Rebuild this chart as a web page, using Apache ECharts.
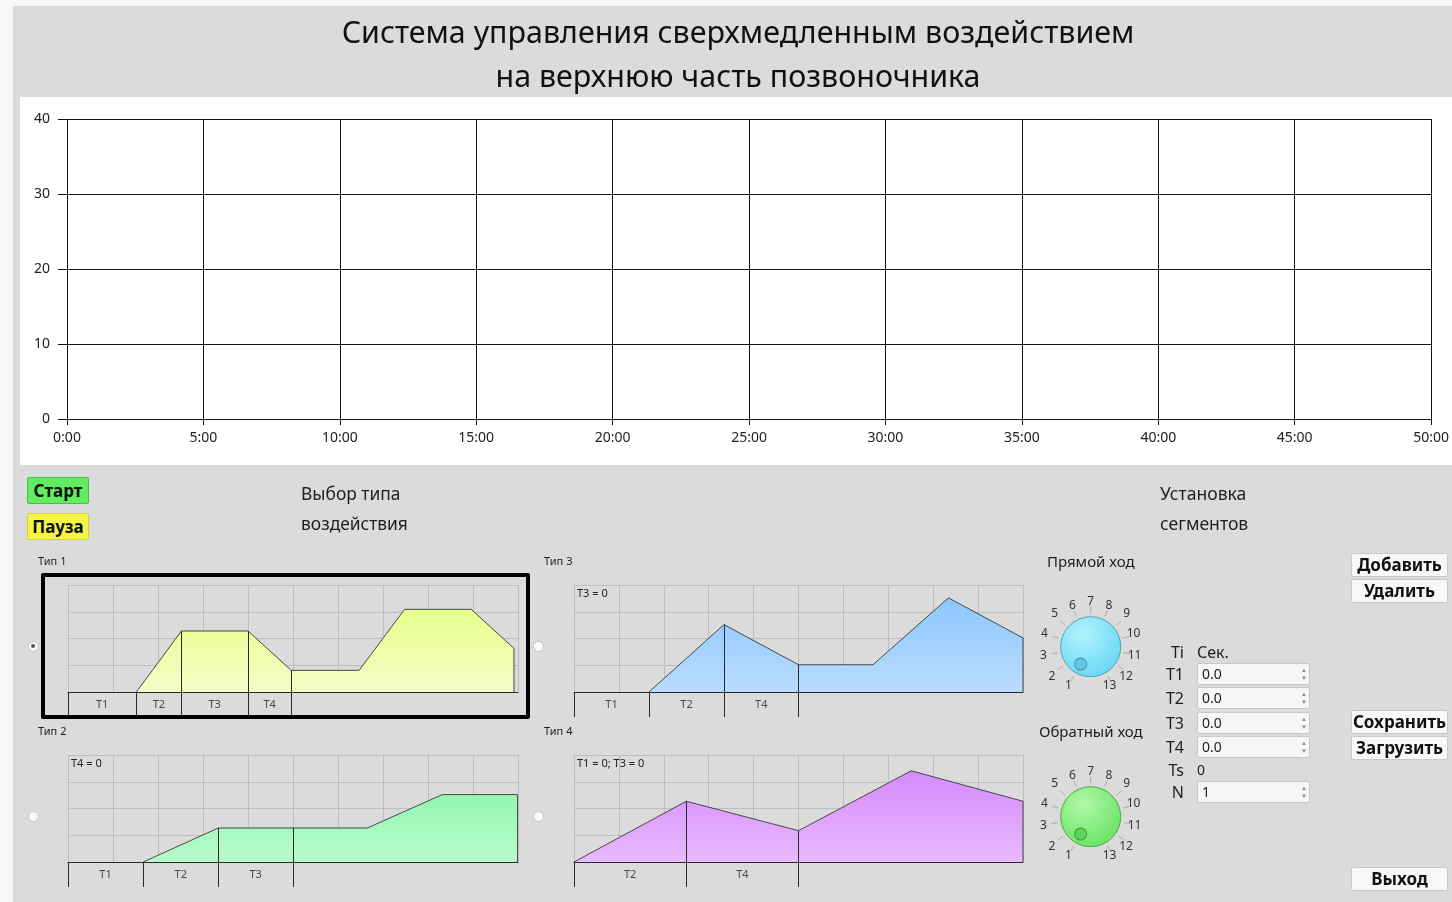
<!DOCTYPE html>
<html><head><meta charset="utf-8">
<script src="https://cdn.jsdelivr.net/npm/echarts@6/dist/echarts.min.js"></script>
<style>
html,body{margin:0;padding:0;width:1452px;height:902px;overflow:hidden;background:#f7f7f7;font-family:"Noto Sans","Open Sans",sans-serif;color:#1e1e1e;}
#panel{position:absolute;left:13px;top:6px;width:1439px;height:896px;background:#dbdbdb;}
#white{position:absolute;left:20px;top:97px;width:1432px;height:368px;background:#fff;}
#chart{position:absolute;left:0;top:0;width:1452px;height:902px;}
#title{position:absolute;left:238px;width:1000px;top:10px;text-align:center;font-size:30.4px;line-height:44px;color:#111;}
.abs{position:absolute;white-space:nowrap;}
.btn{position:absolute;box-sizing:border-box;border-radius:2px;font-weight:bold;font-size:17px;text-align:center;color:#111;}
.wbtn{background:#f8f8f8;border:1px solid #c9c9c9;width:97px;height:24px;line-height:22px;left:1351px;}
.inp{position:absolute;box-sizing:border-box;left:1197px;width:113px;height:22px;background:#f6f6f6;border:1px solid #c8c8c8;border-radius:2px;font-size:14px;line-height:20px;padding-left:4px;color:#222;}
.spin{position:absolute;right:2px;top:2px;width:6px;font-size:6px;line-height:8px;color:#888;text-align:center;}
.radio{position:absolute;box-sizing:border-box;width:11px;height:11px;border-radius:50%;background:#fafafa;border:1px solid #c4c4c4;}
.radio.on::after{content:"";position:absolute;left:2.5px;top:2.5px;width:4px;height:4px;border-radius:50%;background:#555;}
.lbl{position:absolute;font-size:16px;line-height:20px;white-space:nowrap;}
.small{position:absolute;font-size:11px;line-height:14px;white-space:nowrap;color:#222;}
</style></head>
<body>
<div id="panel"></div>
<div id="white"></div>
<div id="chart"></div>
<div id="title"></div>
<div id="ui"></div>
<script>
// ---------- data ----------
const titleLines = ['Система управления сверхмедленным воздействием', 'на верхнюю часть позвоночника'];
const mainXMax = 3000;          // seconds (50:00)
const mainXStep = 300;          // 5:00
const mainYMax = 40;
const mainYStep = 10;
const mainData = [];            // no measurements plotted yet

const type1Profile = [[1.52,0],[2.52,2.28],[4.0,2.28],[4.96,0.81],[6.47,0.81],[7.48,3.09],[8.96,3.09],[9.91,1.63],[9.91,0]];
const type1Bounds = [0,1.52,2.52,4.0,4.96];
const type1Labels = ['T1','T2','T3','T4'];

const type2Profile = [[1.67,0],[3.34,1.27],[6.65,1.27],[8.32,2.52],[9.99,2.52],[9.99,0]];
const type2Bounds = [0,1.67,3.34,5.0];
const type2Labels = ['T1','T2','T3'];

const type3Profile = [[1.67,0],[3.34,2.52],[5.0,1.02],[6.66,1.02],[8.34,3.52],[10,2.02],[10,0]];
const type3Bounds = [0,1.67,3.34,5.0];
const type3Labels = ['T1','T2','T4'];

const type4Profile = [[0,0],[2.5,2.27],[5.0,1.17],[7.51,3.41],[10,2.27],[10,0]];
const type4Bounds = [0,2.5,5.0];
const type4Labels = ['T2','T4'];

const typeNames = ['Тип 1','Тип 2','Тип 3','Тип 4'];
const typeNotes = ['', 'T4 = 0', 'T3 = 0', 'T1 = 0; T3 = 0'];

const dialMin = 1, dialMax = 13;
const forwardValue = 1;
const reverseValue = 1;

const segNames = ['T1','T2','T3','T4'];
const segValues = ['0.0','0.0','0.0','0.0'];
const tsValue = '0';
const nValue = '1';

// ---------- ui ----------
document.getElementById('title').innerHTML = titleLines.join('<br>');
const ui = document.getElementById('ui');
function add(html){ ui.insertAdjacentHTML('beforeend', html); }
add('<div class="btn" style="left:27px;top:477px;width:62px;height:27px;line-height:25px;background:#62ec62;border:1px solid #45c245;">Старт</div>');
add('<div class="btn" style="left:27px;top:513px;width:62px;height:27px;line-height:25px;background:#f5f545;border:1px solid #d0d03a;">Пауза</div>');
add('<div class="lbl" style="left:301px;top:483px;font-size:17.4px;">Выбор типа</div>');
add('<div class="lbl" style="left:301px;top:513px;font-size:17.4px;">воздействия</div>');
add('<div class="lbl" style="left:1160px;top:483px;font-size:17.6px;">Установка</div>');
add('<div class="lbl" style="left:1160px;top:513px;font-size:17.6px;">сегментов</div>');
add('<div class="lbl" style="left:1047px;top:551px;font-size:15px;">Прямой ход</div>');
add('<div class="lbl" style="left:1039px;top:721px;font-size:15px;">Обратный ход</div>');
// type labels & notes
const typePos = [[38,561,68,585],[38,731,68,755],[544,561,574,585],[544,731,574,755]];
typeNames.forEach((n,i)=>{
  add('<div class="small" style="left:'+typePos[i][0]+'px;top:'+(typePos[i][1]-7)+'px;">'+n+'</div>');
  if (typeNotes[i]) add('<div class="small" style="left:'+(typePos[i][2]+3)+'px;top:'+(typePos[i][3]+1)+'px;">'+typeNotes[i]+'</div>');
});
// radios
[[33,646,true],[538,646,false],[33,816,false],[538,816,false]].forEach(r=>{
  add('<div class="radio'+(r[2]?' on':'')+'" style="left:'+(r[0]-5.5)+'px;top:'+(r[1]-5.5)+'px;"></div>');
});
// selection frame
add('<div class="abs" style="left:41px;top:573px;width:489px;height:146px;box-sizing:border-box;border:4px solid #000;border-radius:2px;"></div>');
// segment inputs
add('<div class="lbl" style="left:1150px;width:34px;text-align:right;top:642px;">Ti</div>');
add('<div class="lbl" style="left:1197px;top:642px;">Сек.</div>');
const rowY = [674,698,723,747];
segNames.forEach((n,i)=>{
  add('<div class="lbl" style="left:1150px;width:34px;text-align:right;top:'+(rowY[i]-10)+'px;">'+n+'</div>');
  add('<div class="inp" style="top:'+(rowY[i]-11)+'px;">'+segValues[i]+'<div class="spin">▲<br>▼</div></div>');
});
add('<div class="lbl" style="left:1150px;width:34px;text-align:right;top:760px;">Ts</div>');
add('<div class="lbl" style="left:1197px;top:760px;font-size:14px;">'+tsValue+'</div>');
add('<div class="lbl" style="left:1150px;width:34px;text-align:right;top:782px;">N</div>');
add('<div class="inp" style="top:781px;">'+nValue+'<div class="spin">▲<br>▼</div></div>');
// right buttons
[['Добавить',553],['Удалить',579],['Сохранить',710],['Загрузить',736],['Выход',867]].forEach(b=>{
  add('<div class="btn wbtn" style="top:'+b[1]+'px;">'+b[0]+'</div>');
});

// ---------- chart ----------
const chart = echarts.init(document.getElementById('chart'));
function fmtTime(v){ const m=Math.floor(v/60), s=v%60; return m+':'+(s<10?'0':'')+s; }
function yAt(profile, x){
  for (let i=0;i<profile.length-1;i++){
    const a=profile[i], b=profile[i+1];
    if (x>=a[0] && x<=b[0] && b[0]>a[0]) return a[1]+(b[1]-a[1])*(x-a[0])/(b[0]-a[0]);
  }
  return 0;
}
const grids = [{left:67, top:119, width:1365, height:300}];
const xAxes = [{
  type:'value', gridIndex:0, min:0, max:mainXMax, interval:mainXStep,
  axisLine:{lineStyle:{color:'#111',width:1}},
  axisTick:{show:true,length:6,lineStyle:{color:'#111'}},
  axisLabel:{formatter:fmtTime,color:'#222',fontSize:14,margin:12,fontFamily:'Noto Sans'},
  splitLine:{show:true,lineStyle:{color:'#111',width:1}}
}];
const yAxes = [{
  type:'value', gridIndex:0, min:0, max:mainYMax, interval:mainYStep,
  axisLine:{show:false},
  axisTick:{show:true,length:9,lineStyle:{color:'#111'}},
  axisLabel:{color:'#222',fontSize:14,margin:17,fontFamily:'Noto Sans'},
  splitLine:{show:true,lineStyle:{color:'#111',width:1}}
}];
const series = [{type:'line', xAxisIndex:0, yAxisIndex:0, data:mainData, symbol:'none'}];

const types = [
  {profile:type1Profile,bounds:type1Bounds,labels:type1Labels,left:68,top:585,width:450,c:['#e8ff8a','#f4fcc8']},
  {profile:type2Profile,bounds:type2Bounds,labels:type2Labels,left:68,top:755,width:450,c:['#94f6b4','#b8fccc']},
  {profile:type3Profile,bounds:type3Bounds,labels:type3Labels,left:574,top:585,width:449,c:['#8cc6ff','#badcff']},
  {profile:type4Profile,bounds:type4Bounds,labels:type4Labels,left:574,top:755,width:449,c:['#d48aff','#e9baff']}
];
types.forEach(t=>{
  const gi = grids.length;
  grids.push({left:t.left, top:t.top, width:t.width, height:107});
  grids.push({left:t.left, top:t.top+107, width:t.width, height:25});
  xAxes.push({type:'value',gridIndex:gi,min:0,max:10,interval:1,axisLabel:{show:false},axisTick:{show:false},
    axisLine:{show:true,lineStyle:{color:'#2a2a2a',width:1}},splitLine:{show:true,lineStyle:{color:'#bdbdbd',width:1}}});
  yAxes.push({type:'value',gridIndex:gi,min:0,max:4,interval:1,axisLabel:{show:false},axisTick:{show:false},
    axisLine:{show:false},splitLine:{show:true,lineStyle:{color:'#bdbdbd',width:1}}});
  xAxes.push({type:'value',gridIndex:gi+1,min:0,max:10,show:false});
  yAxes.push({type:'value',gridIndex:gi+1,min:0,max:1,show:false});
  const inner = t.bounds.map(b=>[b,yAt(t.profile,b)]).filter(p=>p[1]>0)
    .map(p=>[{coord:[p[0],0]},{coord:[p[0],p[1]]}]);
  series.push({type:'line',xAxisIndex:gi,yAxisIndex:gi,data:t.profile,symbol:'none',silent:true,
    lineStyle:{color:'#474747',width:1},
    areaStyle:{opacity:1,color:new echarts.graphic.LinearGradient(0,0,0,1,[{offset:0,color:t.c[0]},{offset:1,color:t.c[1]}])},
    markLine:{silent:true,symbol:['none','none'],label:{show:false},lineStyle:{color:'#2a2a2a',width:1,type:'solid'},data:inner}});
  const mids = t.labels.map((l,i)=>({value:[(t.bounds[i]+t.bounds[i+1])/2,0.5],name:l}));
  series.push({type:'scatter',xAxisIndex:gi+1,yAxisIndex:gi+1,data:mids,symbolSize:2,itemStyle:{color:'rgba(0,0,0,0)'},silent:true,
    label:{show:true,position:'inside',formatter:'{b}',fontSize:11,color:'#222',fontFamily:'Noto Sans'},
    markLine:{silent:true,symbol:['none','none'],label:{show:false},lineStyle:{color:'#2a2a2a',width:1,type:'solid'},
      data:t.bounds.map(b=>({xAxis:b}))}});
});

function dial(cy, value, c1, c2, border, knob, knobBorder){
  return [
    {type:'pie',center:[1090.7,cy],radius:[0,30],silent:true,z:2,label:{show:false},labelLine:{show:false},
     emphasis:{disabled:true},data:[{value:1}],
     itemStyle:{borderColor:border,borderWidth:1,
       color:new echarts.graphic.RadialGradient(0.38,0.3,0.85,[{offset:0,color:c1},{offset:1,color:c2}])}},
    {type:'gauge',center:[1090.7,cy],radius:40,z:3,startAngle:240,endAngle:-60,min:dialMin,max:dialMax,splitNumber:dialMax-dialMin,
     axisLine:{show:false,lineStyle:{width:0}},
     axisTick:{show:false},
     splitLine:{show:true,length:6.5,distance:0,lineStyle:{color:'#aaaaaa',width:1}},
     axisLabel:{show:true,distance:-18,color:'#333',fontSize:12,fontFamily:'Noto Sans',formatter:v=>String(Math.round(v))},
     pointer:{show:true,icon:'circle',length:12,width:12,offsetCenter:[0,-14],itemStyle:{color:knob,borderColor:knobBorder,borderWidth:1}},
     anchor:{show:false},title:{show:false},detail:{show:false},
     data:[{value:value}]}
  ];
}
series.push(...dial(646.7, forwardValue, '#b0f3ff', '#5fd3f2', '#4f9fb6', '#62c9e4', '#3f8fa8'));
series.push(...dial(816.7, reverseValue, '#b2f8a8', '#5ee05a', '#4aa847', '#5bd457', '#3c9a39'));

chart.setOption({
  animation:false,
  backgroundColor:'transparent',
  grid:grids, xAxis:xAxes, yAxis:yAxes, series:series
});
</script>
</body></html>
